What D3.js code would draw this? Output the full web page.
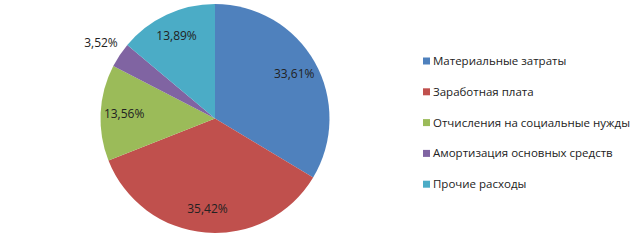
<!DOCTYPE html>
<html lang="ru">
<head>
  <meta charset="UTF-8">
  <title>Структура затрат</title>
  <script src="https://cdn.jsdelivr.net/npm/d3@7"></script>
  <style>
    body { margin: 0; background: #fff; }
    text { font-family: "Open Sans", "Noto Sans", sans-serif; }
  </style>
</head>
<body>
  <svg width="642" height="240"></svg>
<script>
  const categories = [
    "Материальные затраты",
    "Заработная плата",
    "Отчисления на социальные нужды",
    "Амортизация основных средств",
    "Прочие расходы"
  ];
  const values = [33.61, 35.42, 13.56, 3.52, 13.89];
  const labels = ["33,61%", "35,42%", "13,56%", "3,52%", "13,89%"];
  const colors = ["#4F81BD", "#C0504D", "#9BBB59", "#8064A2", "#4BACC6"];

  const svg = d3.select("svg");
  const cx = 215, cy = 118.5, radius = 114.5;

  const data = categories.map((c, i) => ({ name: c, value: values[i], label: labels[i] }));

  const pie = d3.pie().value(d => d.value).sort(null);
  const arcs = pie(data);
  const arc = d3.arc().innerRadius(0).outerRadius(radius);
  const labelArc = d3.arc().innerRadius(91).outerRadius(91);
  const outerArc = d3.arc().innerRadius(137).outerRadius(137);

  const color = d3.scaleOrdinal().domain(categories).range(colors);

  const g = svg.append("g")
    .attr("transform", "translate(" + cx + "," + cy + ")");

  g.selectAll("path")
    .data(arcs)
    .enter()
    .append("path")
    .attr("d", arc)
    .attr("fill", d => color(d.data.name));

  // подписи: маленький сектор выносим наружу
  g.selectAll("text.lbl")
    .data(arcs)
    .enter()
    .append("text")
    .attr("class", "lbl")
    .attr("transform", d => {
      const p = (d.data.value < 5 ? outerArc : labelArc).centroid(d);
      return "translate(" + p[0] + "," + p[1] + ")";
    })
    .attr("text-anchor", "middle")
    .attr("dy", "0.35em")
    .attr("font-size", "12px")
    .attr("fill", "#222")
    .text(d => d.data.label);

  // легенда
  const legend = svg.append("g")
    .attr("transform", "translate(423,61)");

  const item = legend.selectAll("g")
    .data(categories)
    .enter()
    .append("g")
    .attr("transform", (d, i) => "translate(0," + i * 30.8 + ")");

  item.append("rect")
    .attr("x", 0)
    .attr("y", -3.5)
    .attr("width", 7)
    .attr("height", 7)
    .attr("fill", d => color(d));

  item.append("text")
    .attr("x", 10)
    .attr("dy", "0.35em")
    .attr("font-size", "11.5px")
    .attr("fill", "#222")
    .text(d => d);
</script>
</body>
</html>
